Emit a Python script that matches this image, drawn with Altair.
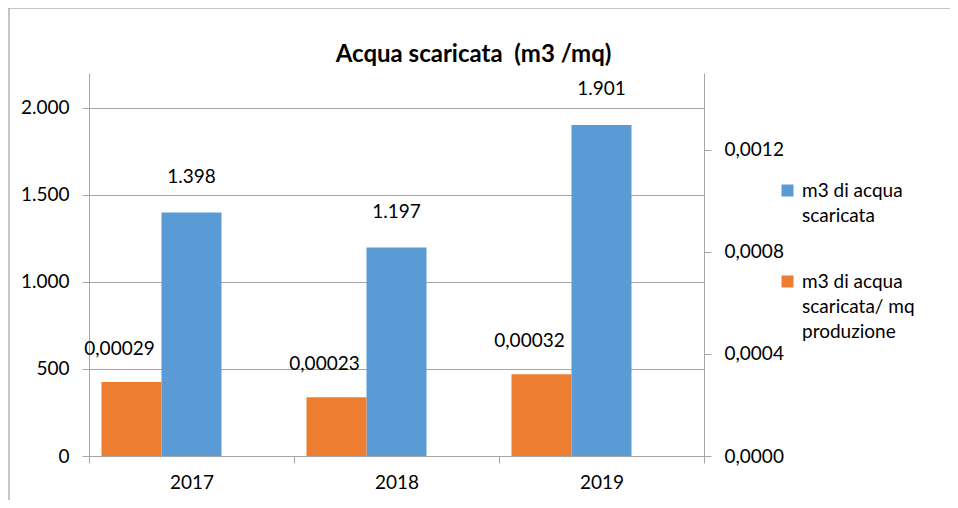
import altair as alt
import pandas as pd

YEARS = ["2017", "2018", "2019"]
SCARICATA = [1398, 1197, 1901]
PER_MQ = [0.00029, 0.00023, 0.00032]
SERIES = ["m3 di acqua scaricata", "m3 di acqua scaricata/ mq produzione"]
LEGEND_LINES = [["\u00a0m3 di acqua", "scaricata"], ["m3 di acqua", "scaricata/ mq", "produzione"]]
LEFT_TICKS = [0, 500, 1000, 1500, 2000]
RIGHT_TICKS = [0, 0.0004, 0.0008, 0.0012]
TITLE = "Acqua scaricata\u00a0 (m3 /mq)"

BLUE = "#5B9BD5"
ORANGE = "#ED7D31"
GRID = "#A6A6A6"
FONT = "Lato"
FS = 19

W, H = 615, 383
PAD = {"left": 81, "top": 65, "right": 246, "bottom": 44}

df_b = pd.DataFrame({"year": YEARS, "value": SCARICATA, "series": SERIES[0]})
df_o = pd.DataFrame({"year": YEARS, "value": PER_MQ, "series": SERIES[1]})

label_expr = "datum.label == '%s' ? %s : %s" % (
    SERIES[0], str(LEGEND_LINES[0]).replace('"', "'"), str(LEGEND_LINES[1]).replace('"', "'"))

x_enc = alt.X("year:N", sort=YEARS, title=None,
              scale=alt.Scale(paddingInner=0, paddingOuter=0),
              axis=alt.Axis(labelAngle=0, tickBand="extent", labelPadding=10, grid=False,
                            labelFont=FONT, labelFontSize=FS))

color_enc = alt.Color("series:N", scale=alt.Scale(domain=SERIES, range=[BLUE, ORANGE]),
                      legend=alt.Legend(orient="none", legendX=689, legendY=108, title=None,
                                        symbolType="square", symbolSize=144, symbolStrokeWidth=0,
                                        labelFont=FONT, labelFontSize=FS, labelColor="black",
                                        labelOffset=5, rowPadding=46, labelExpr=label_expr,
                                        labelBaseline="middle", labelLimit=300))

y_left = alt.Y("value:Q", title=None,
               scale=alt.Scale(domain=[0, 2200], nice=False),
               axis=alt.Axis(values=LEFT_TICKS, grid=True, labelPadding=13,
                             labelFont=FONT, labelFontSize=FS,
                             labelExpr="replace(format(datum.value, ','), ',', '.')"))
y_right = alt.Y("value:Q", title=None,
                scale=alt.Scale(domain=[0, 0.0015], nice=False),
                axis=alt.Axis(orient="right", values=RIGHT_TICKS, grid=False, labelPadding=13,
                              labelFont=FONT, labelFontSize=FS,
                              labelExpr="replace(format(datum.value, '.4f'), '.', ',')"))

blue_bar = alt.Chart(df_b).mark_bar(width=60).encode(x=x_enc, y=y_left, color=color_enc)
blue_txt = alt.Chart(df_b).transform_calculate(
    lab="replace(format(datum.value, ','), ',', '.')"
).mark_text(font=FONT, fontSize=FS, color="black", baseline="middle", dy=-36).encode(
    x=x_enc, y=y_left, text="lab:N")

orange_bar = alt.Chart(df_o).mark_bar(width=60, xOffset=-60).encode(x=x_enc, y=y_right, color=color_enc)
orange_txt = alt.Chart(df_o).transform_calculate(
    lab="replace(format(datum.value, '.5f'), '.', ',')"
).mark_text(font=FONT, fontSize=FS, color="black", baseline="middle", dy=-33, dx=-72).encode(
    x=x_enc, y=y_right, text="lab:N")

one = pd.DataFrame({"a": [0]})
border_left = alt.Chart(one).mark_rule(color="#8C8C8C", strokeWidth=1).encode(
    x=alt.value(-80), y=alt.value(-65), y2=alt.value(H + PAD["bottom"]))
border_top = alt.Chart(one).mark_rule(color="#8C8C8C", strokeWidth=1).encode(
    x=alt.value(-80), x2=alt.value(W + PAD["right"]), y=alt.value(-65))

chart = alt.layer(
    alt.layer(blue_bar, blue_txt),
    alt.layer(orange_bar, orange_txt),
    border_left, border_top,
).resolve_scale(y="independent").properties(
    width=W, height=H,
    title=alt.TitleParams(TITLE, font=FONT, fontSize=24, fontWeight="bold", color="black",
                          anchor="middle", frame="group", dx=77, offset=-59),
    autosize=alt.AutoSizeParams(type="none"),
    padding=PAD,
).configure(
    style={"guide-label": {"lineHeight": 25}}
).configure_view(stroke=None).configure_axis(
    labelFont=FONT, labelFontSize=FS, labelColor="black", domainColor=GRID, tickColor=GRID,
    gridColor=GRID, tickSize=7
)

chart.save("out.html", embed_options={"renderer": "svg", "actions": False})
